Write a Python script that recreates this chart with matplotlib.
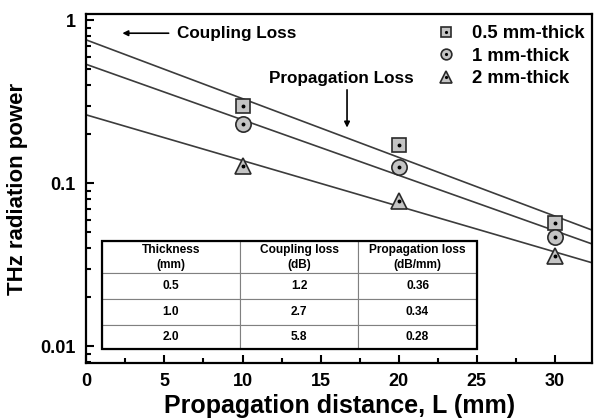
import matplotlib
matplotlib.use("Agg")
import matplotlib.pyplot as plt
import numpy as np

plt.rcParams["font.family"] = ["Liberation Sans", "DejaVu Sans"]
plt.rcParams["font.weight"] = "bold"

distance = [10, 20, 30]
power_05 = [0.30, 0.172, 0.057]
power_10 = [0.232, 0.126, 0.047]
power_20 = [0.128, 0.078, 0.036]

# table values
thickness = ["0.5", "1.0", "2.0"]
coupling_loss = [1.2, 2.7, 5.8]          # dB
propagation_loss = [0.36, 0.34, 0.28]    # dB/mm

series_labels = ["0.5 mm-thick", "1 mm-thick", "2 mm-thick"]
series_markers = ["s", "o", "^"]
series_sizes = [10, 11, 12]

X_MAX = 32.4
LINE_COLOR = "#3c3c3c"
FACE_COLOR = "#c4c4c4"

fig = plt.figure(figsize=(5.94, 4.18), dpi=100)
ax = fig.add_axes([0.1456, 0.1316, 0.851, 0.835])

# fitted loss lines from the table values
x_fit = np.linspace(0, X_MAX, 50)
for cl, pl in zip(coupling_loss, propagation_loss):
    ax.plot(x_fit, 10 ** (-(cl + pl * x_fit) / 10), color=LINE_COLOR, lw=1.2, zorder=2)

handles = []
for values, marker, size in zip([power_05, power_10, power_20], series_markers, series_sizes):
    big, = ax.plot(distance, values, linestyle="none", marker=marker, markersize=size,
                   markerfacecolor=FACE_COLOR, markeredgecolor="#2a2a2a", markeredgewidth=1.2, zorder=3)
    dot, = ax.plot(distance, values, linestyle="none", marker="o", markersize=1.8,
                   color="black", zorder=4)
    handles.append((big, dot))

leg = ax.legend(handles, series_labels, loc="upper right", bbox_to_anchor=(1.008, 1.0),
                frameon=False, markerscale=0.7, fontsize=13.3, handlelength=1.2,
                handletextpad=0.8, labelspacing=0.3, borderaxespad=0.2)
for t in leg.get_texts():
    t.set_fontweight("bold")

# annotations
ax.annotate("Coupling Loss", xy=(2.3, 0.835), xytext=(5.8, 0.835), ha="left", va="center",
            fontsize=12.3, fontweight="bold",
            arrowprops=dict(arrowstyle="-|>", color="black", lw=1.2, mutation_scale=8,
                            shrinkA=4, shrinkB=0))
ax.text(16.35, 0.44, "Propagation Loss", ha="center", va="center", fontsize=12.3, fontweight="bold")
ax.annotate("", xy=(16.7, 0.22), xytext=(16.7, 0.375),
            arrowprops=dict(arrowstyle="-|>", color="black", lw=1.2, mutation_scale=8,
                            shrinkA=0, shrinkB=0))

# axes styling
ax.set_yscale("log")
ax.set_xlim(0, X_MAX)
ax.set_ylim(0.0079, 1.096)
ax.set_xticks([0, 5, 10, 15, 20, 25, 30])
ax.set_xticks(np.arange(2.5, 32.5, 5), minor=True)
ax.set_yticks([0.01, 0.1, 1])
ax.set_yticklabels(["0.01", "0.1", "1"])
ax.tick_params(which="both", direction="in", width=1.5, labelsize=13, top=False, right=False)
ax.tick_params(which="major", length=6)
ax.tick_params(axis="x", which="major", pad=7)
ax.tick_params(axis="y", which="major", pad=8)
ax.tick_params(which="minor", length=3.5)
for s in ax.spines.values():
    s.set_linewidth(1.6)
ax.set_xlabel("Propagation distance, L (mm)", fontsize=18, fontweight="bold", labelpad=3)
ax.set_ylabel("THz radiation power", fontsize=16, fontweight="bold", labelpad=9)

# inset table
cell_text = [[t, f"{c:.1f}", f"{p:.2f}"] for t, c, p in zip(thickness, coupling_loss, propagation_loss)]
col_labels = ["Thickness\n(mm)", "Coupling loss\n(dB)", "Propagation loss\n(dB/mm)"]
tbl = ax.table(cellText=cell_text, colLabels=col_labels, cellLoc="center",
               colWidths=[138, 118, 118], bbox=[0.030, 0.040, 0.742, 0.310], zorder=5)
tbl.auto_set_font_size(False)
row_heights = [32.7, 25.7, 26, 24]
for (r, c), cell in tbl.get_celld().items():
    cell.set_height(row_heights[r])
    cell.set_edgecolor("#808080")
    cell.set_linewidth(0.8)
    cell.set_facecolor("white")
    cell.get_text().set_fontsize(8.6)
    cell.get_text().set_fontweight("bold")
    cell.get_text().set_linespacing(1.3)
frame = plt.Rectangle((0.030, 0.040), 0.742, 0.310, transform=ax.transAxes, fill=False,
                      edgecolor="black", lw=1.6, zorder=6)
ax.add_patch(frame)

fig.savefig("out.png", dpi=100)
